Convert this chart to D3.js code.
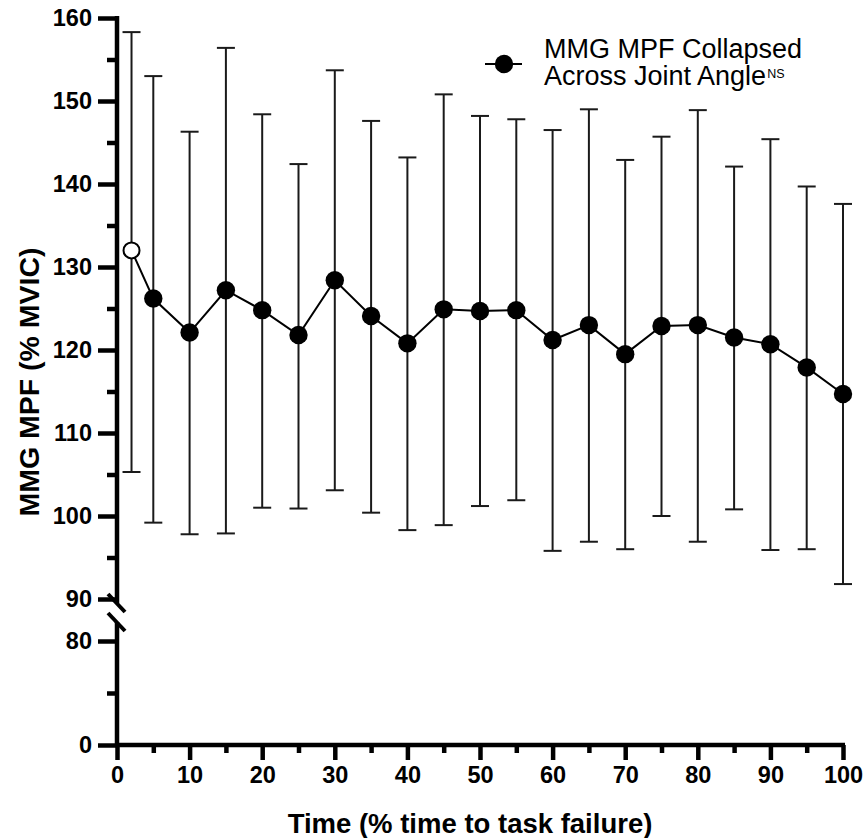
<!DOCTYPE html>
<html>
<head>
<meta charset="utf-8">
<script src="https://cdn.jsdelivr.net/npm/d3@7"></script>
<style>
	body { margin: 0; background: #fff; }
	text { font-family: "Liberation Sans", Arial, sans-serif; }
</style>
</head>
<body>
<div class="container"></div>
<script>
// chart data
const times = [2, 5, 10, 15, 20, 25, 30, 35, 40, 45, 50, 55, 60, 65, 70, 75, 80, 85, 90, 95, 100];
const means = [132.0, 126.2, 122.1, 127.2, 124.8, 121.8, 128.4, 124.1, 120.8, 124.9, 124.7, 124.8, 121.2, 123.0, 119.5, 122.9, 123.0, 121.5, 120.7, 117.9, 114.7];
const lowers = [105.3, 99.2, 97.8, 97.9, 101.0, 100.9, 103.1, 100.4, 98.3, 98.9, 101.2, 101.9, 95.8, 96.9, 96.0, 100.0, 96.9, 100.8, 95.9, 96.0, 91.8];
const uppers = [158.3, 153.0, 146.3, 156.4, 148.4, 142.4, 153.7, 147.6, 143.2, 150.8, 148.2, 147.8, 146.5, 149.0, 142.9, 145.7, 148.9, 142.1, 145.4, 139.7, 137.6];
const openPoints = [2];

const xTicks = [0, 10, 20, 30, 40, 50, 60, 70, 80, 90, 100];
const xMinor = [5, 15, 25, 35, 45, 55, 65, 75, 85, 95];
const yTopTicks = [90, 100, 110, 120, 130, 140, 150, 160];
const yTopMinor = [95, 105, 115, 125, 135, 145, 155];
const yBotTicks = [0, 80];
const yBotMinor = [40];

const legendLines = ["MMG MPF Collapsed", "Across Joint Angle"];
const legendSup = "NS";
const xTitle = "Time (% time to task failure)";
const yTitle = "MMG MPF (% MVIC)";

const data = times.map((t, i) => ({ t: t, mean: means[i], lo: lowers[i], hi: uppers[i], open: openPoints.includes(t) }));

const width = 866, height = 838;
const svg = d3.select(".container").append("svg")
	.attr("width", width)
	.attr("height", height);

const x = d3.scaleLinear().domain([0, 100]).range([117, 843]);
const yTop = d3.scaleLinear().domain([90, 160]).range([599, 18]);
const yBot = d3.scaleLinear().domain([0, 80]).range([745, 641]);

const axisColor = "#000";
const axisWidth = 4.5;

// y axis, upper segment
svg.append("line")
	.attr("x1", x(0)).attr("x2", x(0))
	.attr("y1", yTop(160) - 2).attr("y2", yTop(90) + 4)
	.style("stroke", axisColor).style("stroke-width", axisWidth);

// y axis, lower segment
svg.append("line")
	.attr("x1", x(0)).attr("x2", x(0))
	.attr("y1", yBot(80) - 19).attr("y2", yBot(0) + 2)
	.style("stroke", axisColor).style("stroke-width", axisWidth);

// break marks
const breakYs = [yTop(90) + 4, yBot(80) - 19];
svg.selectAll(".break")
	.data(breakYs).enter()
	.append("line")
		.attr("class", "break")
		.attr("x1", x(0) - 9).attr("x2", x(0) + 8)
		.attr("y1", (d) => d - 9).attr("y2", (d) => d + 9)
		.style("stroke", axisColor).style("stroke-width", 4);

// x axis line
svg.append("line")
	.attr("x1", x(0) - 2).attr("x2", x(100) + 2)
	.attr("y1", yBot(0)).attr("y2", yBot(0))
	.style("stroke", axisColor).style("stroke-width", axisWidth);

function styleAxis(g) {
	g.select(".domain").remove();
	g.selectAll(".tick line").style("stroke", axisColor).style("stroke-width", axisWidth);
	g.selectAll(".tick text")
		.style("font-size", "23.5px")
		.style("font-weight", "bold")
		.style("fill", "#000");
}

// y ticks upper
svg.append("g")
	.attr("transform", `translate(${x(0)},0)`)
	.call(d3.axisLeft(yTop).tickValues(yTopTicks).tickSize(19).tickPadding(6).tickFormat(d3.format("d")))
	.call(styleAxis);
svg.append("g")
	.attr("transform", `translate(${x(0)},0)`)
	.call(d3.axisLeft(yTop).tickValues(yTopMinor).tickSize(10).tickFormat(""))
	.call(styleAxis);

// y ticks lower
svg.append("g")
	.attr("transform", `translate(${x(0)},0)`)
	.call(d3.axisLeft(yBot).tickValues(yBotTicks).tickSize(19).tickPadding(6).tickFormat(d3.format("d")))
	.call(styleAxis);
svg.append("g")
	.attr("transform", `translate(${x(0)},0)`)
	.call(d3.axisLeft(yBot).tickValues(yBotMinor).tickSize(10).tickFormat(""))
	.call(styleAxis);

// x ticks
svg.append("g")
	.attr("transform", `translate(0,${yBot(0)})`)
	.call(d3.axisBottom(x).tickValues(xTicks).tickSize(15).tickPadding(6).tickFormat(d3.format("d")))
	.call(styleAxis);
svg.append("g")
	.attr("transform", `translate(0,${yBot(0)})`)
	.call(d3.axisBottom(x).tickValues(xMinor).tickSize(8).tickFormat(""))
	.call(styleAxis);

// axis titles
svg.append("text")
	.attr("x", 470)
	.attr("y", 833)
	.attr("text-anchor", "middle")
	.style("font-size", "27.5px")
	.style("font-weight", "bold")
	.text(xTitle);

svg.append("text")
	.attr("transform", `translate(39,382) rotate(-90)`)
	.attr("text-anchor", "middle")
	.style("font-size", "28.5px")
	.style("font-weight", "bold")
	.text(yTitle);

// error bars
const capHalf = 9;
const bars = svg.append("g").attr("class", "errorbars")
	.selectAll(".errorbar")
		.data(data).enter()
	.append("g")
		.attr("class", "errorbar")
		.style("stroke", "#1a1a1a")
		.style("stroke-width", 2);

bars.append("line")
	.attr("x1", (d) => x(d.t)).attr("x2", (d) => x(d.t))
	.attr("y1", (d) => yTop(d.lo)).attr("y2", (d) => yTop(d.hi));
bars.append("line")
	.attr("x1", (d) => x(d.t) - capHalf).attr("x2", (d) => x(d.t) + capHalf)
	.attr("y1", (d) => yTop(d.hi)).attr("y2", (d) => yTop(d.hi));
bars.append("line")
	.attr("x1", (d) => x(d.t) - capHalf).attr("x2", (d) => x(d.t) + capHalf)
	.attr("y1", (d) => yTop(d.lo)).attr("y2", (d) => yTop(d.lo));

// connecting line
const line = d3.line()
	.x((d) => x(d.t))
	.y((d) => yTop(d.mean));

svg.append("path")
	.datum(data)
	.attr("d", line)
	.style("fill", "none")
	.style("stroke", "#000")
	.style("stroke-width", 2);

// points
svg.selectAll(".point")
	.data(data).enter()
	.append("circle")
		.attr("class", "point")
		.attr("cx", (d) => x(d.t))
		.attr("cy", (d) => yTop(d.mean))
		.attr("r", (d) => d.open ? 8 : 9.2)
		.style("fill", (d) => d.open ? "#fff" : "#000")
		.style("stroke", "#000")
		.style("stroke-width", (d) => d.open ? 2 : 0);

// legend
const legend = svg.append("g").attr("transform", "translate(485,64)");
legend.append("line")
	.attr("x1", 0).attr("x2", 37)
	.style("stroke", "#000").style("stroke-width", 2);
legend.append("circle")
	.attr("cx", 19).attr("r", 9.2)
	.style("fill", "#000");

const legendText = svg.append("g").attr("class", "legend-text");
legendText.selectAll("text.lg")
	.data(legendLines).enter()
	.append("text")
		.attr("class", "lg")
		.attr("x", 544)
		.attr("y", (d, i) => 58 + i * 27)
		.style("font-size", "27px")
		.style("fill", "#000")
		.text((d) => d);

legendText.select("text.lg:nth-of-type(2)")
	.each(function() {
		const w = this.getComputedTextLength();
		legendText.append("text")
			.attr("x", 544 + w + 1)
			.attr("y", 78)
			.style("font-size", "12.5px")
			.style("fill", "#000")
			.text(legendSup);
	});
</script>
</body>
</html>
